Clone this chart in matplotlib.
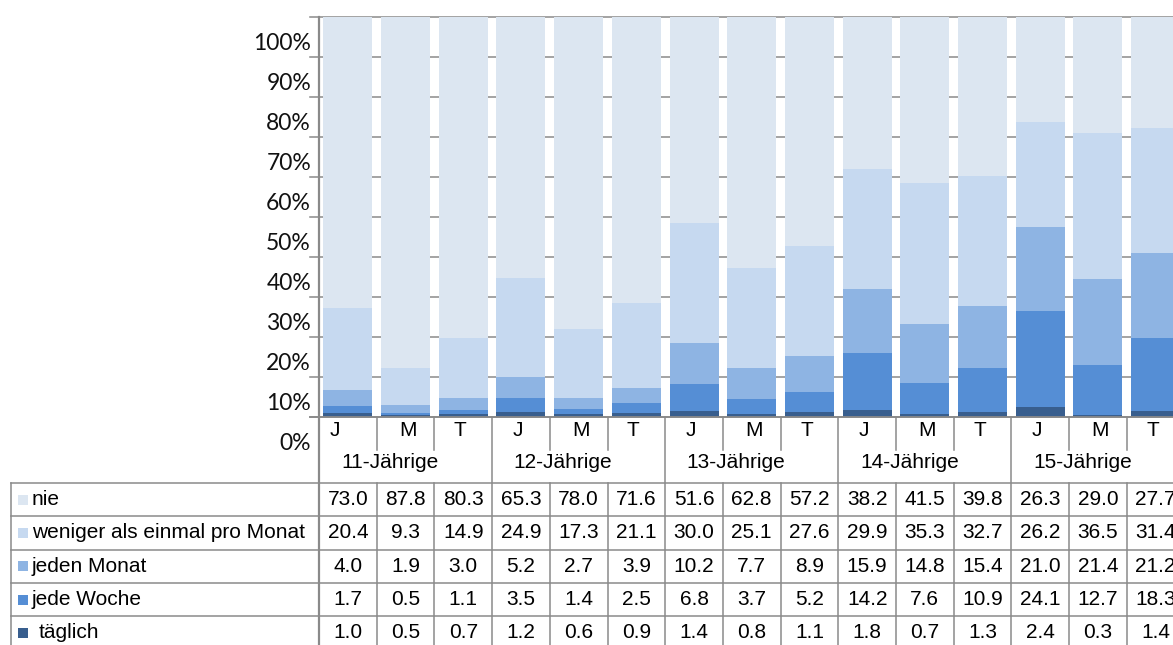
import matplotlib
matplotlib.use("Agg")
import matplotlib.pyplot as plt
from matplotlib.patches import Rectangle
import numpy as np

# ---------------- data ----------------
groups = ["11-Jährige", "12-Jährige", "13-Jährige", "14-Jährige", "15-Jährige"]
subcats = ["J", "M", "T"]
series_names = ["nie", "weniger als einmal pro Monat", "jeden Monat", "jede Woche", "täglich"]
nie = [73.0, 87.8, 80.3, 65.3, 78.0, 71.6, 51.6, 62.8, 57.2, 38.2, 41.5, 39.8, 26.3, 29.0, 27.7]
weniger = [20.4, 9.3, 14.9, 24.9, 17.3, 21.1, 30.0, 25.1, 27.6, 29.9, 35.3, 32.7, 26.2, 36.5, 31.4]
jeden_monat = [4.0, 1.9, 3.0, 5.2, 2.7, 3.9, 10.2, 7.7, 8.9, 15.9, 14.8, 15.4, 21.0, 21.4, 21.2]
jede_woche = [1.7, 0.5, 1.1, 3.5, 1.4, 2.5, 6.8, 3.7, 5.2, 14.2, 7.6, 10.9, 24.1, 12.7, 18.3]
taeglich = [1.0, 0.5, 0.7, 1.2, 0.6, 0.9, 1.4, 0.8, 1.1, 1.8, 0.7, 1.3, 2.4, 0.3, 1.4]
yticks = [0, 10, 20, 30, 40, 50, 60, 70, 80, 90, 100]

colors = ["#DCE6F1", "#C6D9F0", "#8EB4E3", "#558ED5", "#385E8E"]
series = [nie, weniger, jeden_monat, jede_woche, taeglich]

# ---------------- layout (pixels) ----------------
W, H = 1173, 645
L_PX, T_PX, B_PX = 319.0, 16.7, 416.7
SLOT = 57.7
N = len(nie)

fig = plt.figure(figsize=(W / 100, H / 100), dpi=100)
ax = fig.add_axes([L_PX / W, 1 - B_PX / H, N * SLOT / W, (B_PX - T_PX) / H])
ax.set_xlim(-0.5, N - 0.5)
ax.set_ylim(0, 100)
ax.axis("off")

def xd(px):
    return -0.5 + (px - L_PX) / SLOT

def yd(py):
    return (B_PX - py) / ((B_PX - T_PX) / 100.0)

GRID = "#8A8A8A"
LW = 1.1
font = "Liberation Sans"
FS = 15

# gridlines + tick marks
for v in yticks:
    ax.plot([xd(310), N - 0.5 + 1], [v, v], color=GRID, lw=LW, zorder=1, clip_on=False)

# stacked 100% bars (bottom: täglich)
arr = np.array(series, dtype=float)
tot = arr.sum(axis=0)
pct = arr / tot * 100
x = np.arange(N)
bottom = np.zeros(N)
for k in range(len(series) - 1, -1, -1):
    ax.bar(x, pct[k], bottom=bottom, width=0.85, color=colors[k], zorder=2, linewidth=0)
    bottom += pct[k]

# y tick labels (shifted as in reference)
for v in yticks:
    ax.text(xd(311), v - 6.6, f"{v}%", ha="right", va="center", fontsize=16.5,
            family="Lato", color="#111111", clip_on=False)

# left axis line
table_top = yd(483)
row_h = yd(483) - yd(516.33)
table_bot = table_top - 5 * row_h
ax.plot([-0.5, -0.5], [100, table_bot - 5], color=GRID, lw=1.6, zorder=3, clip_on=False)
# horizontal axis line
ax.plot([xd(310), N], [0, 0], color=GRID, lw=1.3, zorder=3, clip_on=False)

# separators in category area
for i in range(N - 1):
    b = i + 0.5
    if (i + 1) % 3 == 0:
        ax.plot([b, b], [0, table_bot - 5], color=GRID, lw=LW, clip_on=False)
    else:
        ax.plot([b, b], [0, yd(450)], color=GRID, lw=LW, clip_on=False)
        ax.plot([b, b], [table_top, table_bot - 5], color=GRID, lw=LW, clip_on=False)

# category labels (small pixel nudges as in the reference)
sub_dx = {"J": -3, "M": 2, "T": -3}
for i in range(N):
    s = subcats[i % 3]
    dx = sub_dx[s] - (10 if i == 0 else 0)
    ax.text(i + dx / SLOT, yd(431), s, ha="center", va="center", fontsize=FS,
            family=font, clip_on=False)
for g, name in enumerate(groups):
    ax.text(3 * g + 1 - 0.27, yd(463), name, ha="center", va="center", fontsize=FS,
            family=font, clip_on=False)

# table
x_left = xd(11)
for r in range(6):
    yy = table_top - r * row_h
    ax.plot([x_left, N], [yy, yy], color=GRID, lw=LW, clip_on=False)
ax.plot([x_left, x_left], [table_top, table_bot - 5], color=GRID, lw=LW, clip_on=False)

for r, (name, vals) in enumerate(zip(series_names, series)):
    yc = table_top - (r + 0.5) * row_h
    kx = xd(18)
    kw = 10 / SLOT
    kh = 10 / 4.0
    ax.add_patch(Rectangle((kx, yc - kh / 2), kw, kh, facecolor=colors[r],
                           edgecolor="none", clip_on=False))
    tx = xd(39) if name == "täglich" else xd(32)
    ax.text(tx, yc, name, ha="left", va="center", fontsize=FS, family=font, clip_on=False)
    for i, v in enumerate(vals):
        ax.text(i, yc, f"{v:.1f}", ha="center", va="center", fontsize=FS,
                family=font, clip_on=False)

fig.savefig("out.png", dpi=100)
